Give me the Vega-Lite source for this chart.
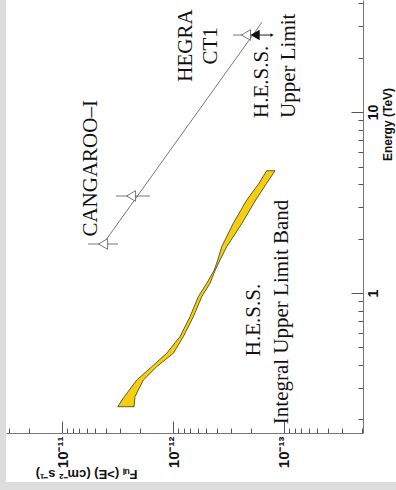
{
  "$schema": "https://vega.github.io/schema/vega-lite/v6.json",
  "width": 390,
  "height": 482,
  "autosize": {"type": "none"},
  "padding": {"left": 6, "top": 0, "right": 0, "bottom": 8},
  "background": "#dddddd",
  "config": {"view": {"fill": "white", "stroke": null}},
  "encoding": {
    "x": {
      "field": "flux", "type": "quantitative",
      "scale": {"type": "log", "domain": [1.94e-14, 3.2e-11], "range": [357, 0], "nice": false},
      "axis": {
        "orient": "bottom", "offset": -49, "grid": false,
        "values": [2e-14, 3e-14, 4e-14, 5e-14, 6e-14, 7e-14, 8e-14, 9e-14, 1e-13, 2e-13, 3e-13, 4e-13, 5e-13, 6e-13, 7e-13, 8e-13, 9e-13, 1e-12, 2e-12, 3e-12, 4e-12, 5e-12, 6e-12, 7e-12, 8e-12, 9e-12, 1e-11, 2e-11, 3e-11],
        "labelExpr": "datum.value == 1e-11 ? '10⁻¹¹' : datum.value == 1e-12 ? '10⁻¹²' : datum.value == 1e-13 ? '10⁻¹³' : ''",
        "tickSize": {"condition": {"test": "datum.value == 1e-11 || datum.value == 1e-12 || datum.value == 1e-13", "value": -12}, "value": -5},
        "labelAngle": 270, "labelPadding": 15, "labelOverlap": false, "labelFlush": false,
        "labelFont": "Liberation Sans", "labelFontWeight": "bold", "labelFontSize": 15, "labelColor": "#111",
        "domainColor": "#777", "tickColor": "#555",
        "title": "Fᵤₗ (>E)  (cm⁻² s⁻¹)", "titleAngle": 180, "titleX": 131, "titleY": 40,
        "titleAlign": "left", "titleBaseline": "middle",
        "titleFont": "Liberation Sans", "titleFontWeight": "bold", "titleFontSize": 13, "titleColor": "#111"
      }
    },
    "y": {
      "field": "energy", "type": "quantitative",
      "scale": {"type": "log", "domain": [0.1684, 41.6], "range": [433, 0], "nice": false},
      "axis": {
        "orient": "right", "offset": -33, "grid": false,
        "values": [0.2, 0.3, 0.4, 0.5, 0.6, 0.7, 0.8, 0.9, 1, 2, 3, 4, 5, 6, 7, 8, 9, 10, 20, 30, 40],
        "labelExpr": "datum.value == 1 ? '1' : datum.value == 10 ? '10' : ''",
        "tickSize": {"condition": {"test": "datum.value == 1 || datum.value == 10", "value": -12}, "value": -5},
        "labelAngle": 270, "labelPadding": 15, "labelOverlap": false, "labelFlush": false,
        "labelFont": "Liberation Sans", "labelFontWeight": "bold", "labelFontSize": 14, "labelColor": "#111",
        "domainColor": "#777", "tickColor": "#555",
        "title": "Energy (TeV)", "titleAngle": 270, "titleX": 24, "titleY": 124,
        "titleAlign": "center", "titleBaseline": "middle",
        "titleFont": "Liberation Sans", "titleFontWeight": "bold", "titleFontSize": 12, "titleColor": "#111"
      }
    }
  },
  "layer": [
    {
      "data": {"values": [
        {"energy": 4.739, "flux": 1.432e-13, "flux2": 1.205e-13},
        {"energy": 4.037, "flux": 1.679e-13, "flux2": 1.432e-13},
        {"energy": 3.264, "flux": 2.168e-13, "flux2": 1.799e-13},
        {"energy": 2.427, "flux": 2.864e-13, "flux2": 2.388e-13},
        {"energy": 1.803, "flux": 3.64e-13, "flux2": 3.28e-13},
        {"energy": 1.522, "flux": 3.95e-13, "flux2": 3.77e-13},
        {"energy": 1.34, "flux": 4.25e-13, "flux2": 4.16e-13},
        {"energy": 1.131, "flux": 4.97e-13, "flux2": 4.64e-13},
        {"energy": 0.9537, "flux": 5.92e-13, "flux2": 5.51e-13},
        {"energy": 0.7397, "flux": 7.03e-13, "flux2": 6.56e-13},
        {"energy": 0.574, "flux": 8.65e-13, "flux2": 8.07e-13},
        {"energy": 0.4644, "flux": 1.14e-12, "flux2": 9.94e-13},
        {"energy": 0.3915, "flux": 1.556e-12, "flux2": 1.403e-12},
        {"energy": 0.3304, "flux": 2.124e-12, "flux2": 1.852e-12},
        {"energy": 0.2673, "flux": 2.748e-12, "flux2": 2.2e-12},
        {"energy": 0.2353, "flux": 3.148e-12, "flux2": 2.245e-12}
      ]},
      "mark": {"type": "area", "orient": "horizontal", "fill": "#f5cf0f", "stroke": "#3a3a1a", "strokeWidth": 0.8},
      "encoding": {"x2": {"field": "flux2"}}
    },
    {
      "data": {"values": [
        {"flux": 4.27e-12, "energy": 1.865},
        {"flux": 1.58e-13, "energy": 31.35}
      ]},
      "mark": {"type": "line", "color": "#555", "strokeWidth": 0.8},
      "encoding": {}
    },
    {
      "data": {"values": [
        {"flux": 5.83e-12, "flux2": 3.13e-12, "energy": 1.865},
        {"flux": 3.26e-12, "flux2": 1.61e-12, "energy": 3.435},
        {"flux": 2.88e-13, "flux2": 1.79e-13, "energy": 26.64}
      ]},
      "mark": {"type": "rule", "color": "#555", "strokeWidth": 0.8},
      "encoding": {"x2": {"field": "flux2"}}
    },
    {
      "data": {"values": [
        {"flux": 4.27e-12, "energy": 1.865},
        {"flux": 2.39e-12, "energy": 3.435},
        {"flux": 2.2e-13, "energy": 26.64}
      ]},
      "mark": {"type": "point", "shape": "triangle-left", "size": 110, "filled": true, "fill": "white", "stroke": "#555", "strokeWidth": 0.8, "opacity": 1},
      "encoding": {}
    },
    {
      "data": {"values": [
        {"flux": 1.82e-13, "flux2": 1.28e-13, "energy": 26.64}
      ]},
      "mark": {"type": "rule", "color": "#222", "strokeWidth": 1},
      "encoding": {"x2": {"field": "flux2"}}
    },
    {
      "data": {"values": [
        {"flux": 1.82e-13, "energy": 26.64}
      ]},
      "mark": {"type": "point", "shape": "triangle-left", "size": 110, "filled": true, "color": "#111", "opacity": 1},
      "encoding": {}
    },
    {
      "data": {"values": [
        {"flux": 1.28e-13, "energy": 26.64}
      ]},
      "mark": {"type": "point", "shape": "triangle-right", "size": 14, "filled": true, "color": "#111", "opacity": 1},
      "encoding": {}
    },
    {
      "data": {"values": [
        {"label": "CANGAROO–I", "flux": 4.84e-12, "energy": 4.883},
        {"label": "HEGRA", "flux": 6.75e-13, "energy": 23.33},
        {"label": "CT1", "flux": 4.02e-13, "energy": 23.19},
        {"label": "H.E.S.S.", "flux": 1.644e-13, "energy": 0.7095},
        {"label": "Integral Upper Limit Band", "flux": 9.2e-14, "energy": 0.7861}
      ]},
      "mark": {"type": "text", "angle": 270, "align": "center", "baseline": "alphabetic", "font": "Liberation Serif", "fontSize": 21, "color": "#111"},
      "encoding": {"text": {"field": "label"}}
    },
    {
      "data": {"values": [
        {"label": "H.E.S.S.", "flux": 1.39e-13, "energy": 9.268},
        {"label": "Upper Limit", "flux": 7.96e-14, "energy": 9.268}
      ]},
      "mark": {"type": "text", "angle": 270, "align": "left", "baseline": "alphabetic", "font": "Liberation Serif", "fontSize": 21, "color": "#111"},
      "encoding": {"text": {"field": "label"}}
    }
  ]
}
